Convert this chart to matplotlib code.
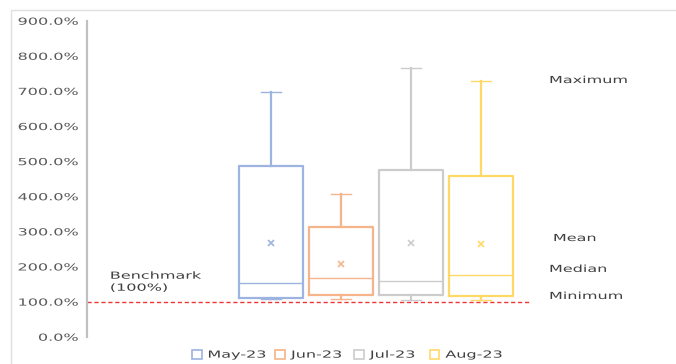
import matplotlib
matplotlib.use("Agg")
import matplotlib.pyplot as plt
from matplotlib.patches import Patch, Rectangle
from matplotlib.patheffects import AbstractPathEffect
from matplotlib.transforms import Affine2D
from matplotlib.ticker import FuncFormatter

# monthly distribution summary (percent)
months = ["May-23", "Jun-23", "Jul-23", "Aug-23"]
minimum = [106, 107, 105, 104]
q1 = [109, 119, 119, 115]
median = [152, 166, 159, 175]
q3 = [487, 313, 474, 459]
maximum = [698, 406, 765, 728]
mean = [268, 206, 268, 265]
benchmark = 100

colors = ["#9db3e0", "#f5b48a", "#cccccc", "#ffd966"]
positions = [1, 2, 3, 4]


class Wide(AbstractPathEffect):
    """Draw text glyphs stretched horizontally (about the left or right edge)."""

    def __init__(self, sx=1.65, right=False):
        super().__init__()
        self.sx = sx
        self.right = right

    def draw_path(self, renderer, gc, tpath, affine, rgbFace=None):
        x0 = tpath.get_extents().x1 if self.right else 0
        stretch = Affine2D().translate(-x0, 0).scale(self.sx, 1).translate(x0, 0)
        renderer.draw_path(gc, tpath, stretch + affine, rgbFace)


W, H = 676, 364
FS = 7
fig = plt.figure(figsize=(W / 100, H / 100), dpi=100)
ax = fig.add_axes([87 / W, (H - 336.7) / H, (660 - 87) / W, (336.7 - 20.7) / H])

for i, m in enumerate(months):
    stats = [{
        "label": m,
        "whislo": minimum[i],
        "q1": q1[i],
        "med": median[i],
        "q3": q3[i],
        "whishi": maximum[i],
        "mean": mean[i],
        "fliers": [],
    }]
    c = colors[i]
    ax.bxp(stats, positions=[positions[i]], widths=0.92, showmeans=True,
           showfliers=False, patch_artist=False,
           boxprops=dict(color=c, lw=1.6),
           medianprops=dict(color=c, lw=1.0),
           whiskerprops=dict(color=c, lw=1.6),
           capprops=dict(color=c, lw=1.0),
           capwidths=0.29,
           meanprops=dict(marker="x", markeredgecolor=c, markersize=4, markeredgewidth=1.2))

ax.set_xlim(-1.626, 6.56)
ax.set_ylim(0, 900)
ax.set_yticks(range(0, 901, 100))
ax.yaxis.set_major_formatter(FuncFormatter(lambda v, p: f"{v:.1f}%"))
ax.tick_params(axis="y", length=0, pad=6.5, labelsize=FS, labelcolor="#595959")
for lbl in ax.get_yticklabels():
    lbl.set_path_effects([Wide(right=True)])
ax.set_xticks([])
for s in ["top", "right", "bottom"]:
    ax.spines[s].set_visible(False)
ax.spines["left"].set_color("#c0c0c0")
ax.spines["left"].set_linewidth(1.6)

# benchmark line
ax.plot([-1.626, 4.69], [benchmark, benchmark], color="#ee3333", lw=1.0,
        ls=(0, (3, 2)), clip_on=False, zorder=1)
ax.text(-1.30, 188, f"Benchmark\n({benchmark}%)", fontsize=FS, color="#404040",
        va="top", ha="left", linespacing=1.25, path_effects=[Wide()])

# statistic level labels
label_kw = dict(fontsize=FS, color="#404040", va="center", ha="left", clip_on=False,
                path_effects=[Wide()])
ax.text(4.974, 731, "Maximum", **label_kw)
ax.text(5.03, 281, "Mean", **label_kw)
ax.text(4.974, 193, "Median", **label_kw)
ax.text(4.974, 116, "Minimum", **label_kw)

handles = [Patch(facecolor="white", edgecolor=c, lw=1.2, label=m) for m, c in zip(months, colors)]
leg = fig.legend(handles=handles, loc="lower center", bbox_to_anchor=(336 / W, -0.012),
                 ncol=4, frameon=False, fontsize=FS, handlelength=1.0, handleheight=1.0,
                 handletextpad=0.6, columnspacing=3.3)
for t in leg.get_texts():
    t.set_color("#404040")
    t.set_path_effects([Wide()])

# chart area frame
fig.patches.append(Rectangle((11 / W, -0.1), 2, 1 - 10 / H + 0.1, transform=fig.transFigure,
                             fill=False, edgecolor="#e0e0e0", lw=1.0))

fig.savefig("out.png", dpi=100)
